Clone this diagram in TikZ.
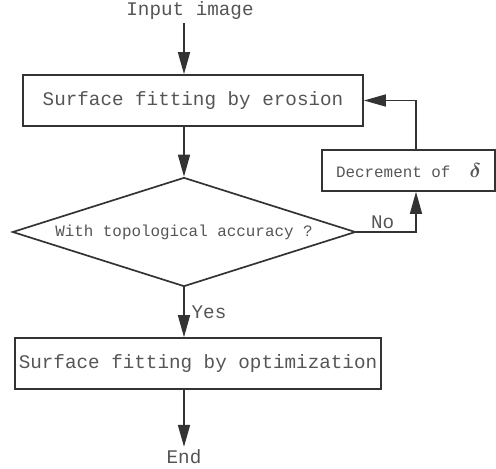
\documentclass[tikz,border=0pt]{standalone}
\usepackage{fontspec}
\newfontfamily\flowfont{Liberation Mono}
\usetikzlibrary{shapes.geometric, arrows.meta, positioning}
\definecolor{inkgray}{HTML}{333333}
\definecolor{textgray}{HTML}{555555}

\begin{document}
\begin{tikzpicture}[
  x=0.025cm, y=-0.025cm,
  box/.style={rectangle, draw=inkgray, line width=1.2pt, minimum height=1.275cm, inner sep=0pt, text=textgray, font=\flowfont\fontsize{13.7}{16}\selectfont},
  smallbox/.style={rectangle, draw=inkgray, line width=1.2pt, minimum height=1.025cm, inner sep=0pt, text=textgray, font=\flowfont\fontsize{11.3}{13}\selectfont},
  decision/.style={diamond, draw=inkgray, line width=1.2pt, aspect=3.15, inner sep=0pt, minimum width=8.575cm, minimum height=2.725cm, text=textgray, font=\flowfont\fontsize{11.3}{13}\selectfont},
  tag/.style={text=textgray, font=\flowfont\fontsize{13.7}{16}\selectfont, inner sep=2pt},
  arrow/.style={-{Triangle[length=5.5mm, width=3mm]}, draw=inkgray, line width=1.2pt}
]
  \useasboundingbox (0,0) rectangle (496,469);

  % Steps
  \node[tag] (input) at (190, 11) {Input image};
  \node[box, minimum width=8.5cm] (erosion) at (193, 100.5) {Surface fitting by erosion};
  \node[decision] (check) at (184, 232) {With topological accuracy ?};
  \node[smallbox, minimum width=4.325cm] (dec) at (408.5, 170.5) {Decrement of~~{\fontsize{14}{16}\selectfont\boldmath$\delta$}};
  \node[box, minimum width=9.15cm] (optim) at (198, 363.5) {Surface fitting by optimization};
  \node[tag] (finish) at (184, 457) {End};
  \coordinate (loopx) at (416, 0);

  % Flow
  \draw[arrow] (input.south -| check.north) -- (erosion.north -| check.north);
  \draw[arrow] (erosion.south -| check.north) -- (check.north);
  \draw[arrow] (check.south) -- node[right, xshift=0.1cm, tag] {Yes} (optim.north -| check.south);
  \draw[arrow] (optim.south -| check.south) -- (finish.north);

  % Loop back
  \draw[arrow] (check.east) -| node[pos=0.22, above, tag] {No} (dec.south -| loopx);
  \draw[arrow] (dec.north -| loopx) |- (erosion.east);
\end{tikzpicture}
\end{document}
